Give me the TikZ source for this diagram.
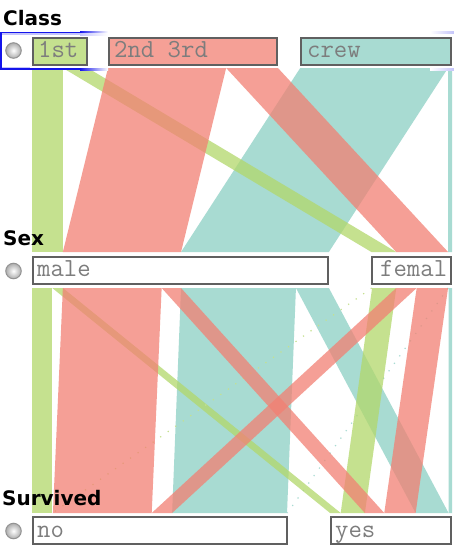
\documentclass[tikz,border=0pt]{standalone}
\usepackage{fontspec}
\newfontfamily\hdrfont{DejaVu Sans}
\definecolor{gA}{RGB}{178,215,106}
\definecolor{rA}{RGB}{242,128,115}
\definecolor{tA}{RGB}{139,207,195}
\definecolor{gB}{RGB}{197,225,143}
\definecolor{rB}{RGB}{245,160,150}
\definecolor{tB}{RGB}{168,219,210}
\definecolor{boxgray}{RGB}{96,96,96}
\definecolor{lblgray}{RGB}{125,125,125}
\definecolor{selblue}{RGB}{20,20,235}
\newcommand\upr[5]{\fill[rib,#1] (#2,68) -- (#3,68) -- (#5,252) -- (#4,252) -- cycle;}
\newcommand\lwr[5]{\fill[rib,#1] (#2,288) -- (#3,288) -- (#5,513) -- (#4,513) -- cycle;}
\begin{document}
\begin{tikzpicture}[x=1pt,y=-1pt,
  hdr/.style={anchor=base west,inner sep=0pt,font=\hdrfont\bfseries\fontsize{20}{24}\selectfont},
  boxlbl/.style={anchor=base west,inner sep=0pt,text=lblgray,font=\ttfamily\fontsize{26}{30}\selectfont},
  catbox/.style={draw=boxgray,line width=2pt,anchor=north west,inner sep=0pt,outer sep=0pt},
  rib/.style={fill opacity=0.75},
  radio/.style={circle,draw=gray!85,line width=1pt,inner color=white,outer color=gray!65,minimum size=15.5pt,inner sep=0pt},
  thinrib/.style={line width=1.2pt,dash pattern=on 1.2pt off 8pt}]
\useasboundingbox (0,0) rectangle (454,546);
\fill[white] (0,0) rectangle (454,546);

% ---------- upper ribbons (Class -> Sex) ----------
\upr{tA}{300.22}{448.05}{181.03}{328.86}
\upr{tA}{448.05}{452}{448.06}{452}
\upr{gA}{32}{62.87}{32}{62.87}
\upr{gA}{62.87}{87.74}{371.40}{396.27}
\upr{rA}{108}{226.16}{62.87}{181.03}
\upr{rA}{226.16}{277.95}{396.27}{448.06}

% ---------- lower ribbons (Sex -> Survived) ----------
\lwr{tA}{181.03}{295.94}{172.12}{287.03}
\lwr{tA}{295.94}{328.87}{415.63}{448.56}
\lwr{tA}{448.57}{452}{448.56}{452}
\draw[thinrib,tB] (448.3,288) -- (287.3,513);
\lwr{gA}{32}{52.24}{32}{52.24}
\lwr{gA}{52.24}{62.87}{330.06}{340.69}
\lwr{gA}{372.09}{396.27}{340.69}{364.87}
\draw[thinrib,gB] (371.7,288) -- (52.6,513);
\lwr{rA}{62.87}{161.65}{52.93}{151.71}
\lwr{rA}{161.65}{181.03}{364.87}{384.25}
\lwr{rA}{396.27}{416.68}{151.71}{172.12}
\lwr{rA}{416.68}{448.06}{384.25}{415.63}

% ---------- selection frame ----------
\fill[selblue] (0,31.5) rectangle (80,33.2);
\shade[left color=selblue,right color=white] (80,31.5) rectangle (108,33.2);
\fill[selblue!25] (1.6,33.2) rectangle (80,35);
\shade[left color=selblue!25,right color=white] (80,33.2) rectangle (108,35);
\fill[selblue] (0,31.5) rectangle (1.6,70);
\fill[selblue] (0,68.3) rectangle (80,70);
\shade[left color=selblue,right color=white] (80,68.3) rectangle (108,70);
\fill[selblue!25] (1.6,66.5) rectangle (30,68.3);
\shade[left color=white,right color=selblue!25] (430,31.5) rectangle (454,33.2);
\shade[left color=white,right color=selblue!25] (430,68.3) rectangle (454,70);

% ---------- headers ----------
\node[hdr] (hClass) at (3,25) {Class};
\node[hdr] (hSex) at (3,245) {Sex};
\node[hdr] (hSurv) at (2,505) {Survived};

% ---------- radio buttons ----------
\node[radio] (r1) at (13.5,50.5) {};
\node[radio] (r2) at (13.5,271) {};
\node[radio] (r3) at (13.5,531) {};

% ---------- Class boxes ----------
\node[catbox,fill=gB,minimum width=53.7pt,minimum height=27pt] (b1st) at (33,38) {};
\node[catbox,fill=rB,minimum width=167.9pt,minimum height=27pt] (b23) at (109,38) {};
\node[catbox,fill=tB,minimum width=149.8pt,minimum height=27pt] (bcrew) at (301.2,38) {};
\node[boxlbl] (l1st) at (38,57) {1st};
\node[boxlbl] (l23) at (114,57) {2nd 3rd};
\node[boxlbl] (lcrew) at (307,57) {crew};

% ---------- Sex boxes ----------
\node[catbox,fill=white,minimum width=294.9pt,minimum height=27pt] (bmale) at (33,257) {};
\node[catbox,fill=white,minimum width=78.6pt,minimum height=27pt] (bfem) at (372.4,257) {};
\node[boxlbl] (lmale) at (37,276) {male};
\node[boxlbl] (lfem) at (380,276) {femal};

% ---------- Survived boxes ----------
\node[catbox,fill=white,minimum width=253.5pt,minimum height=27pt] (bno) at (33,517) {};
\node[catbox,fill=white,minimum width=119.9pt,minimum height=27pt] (byes) at (331.1,517) {};
\node[boxlbl] (lno) at (37,537) {no};
\node[boxlbl] (lyes) at (335,537) {yes};
\end{tikzpicture}
\end{document}
